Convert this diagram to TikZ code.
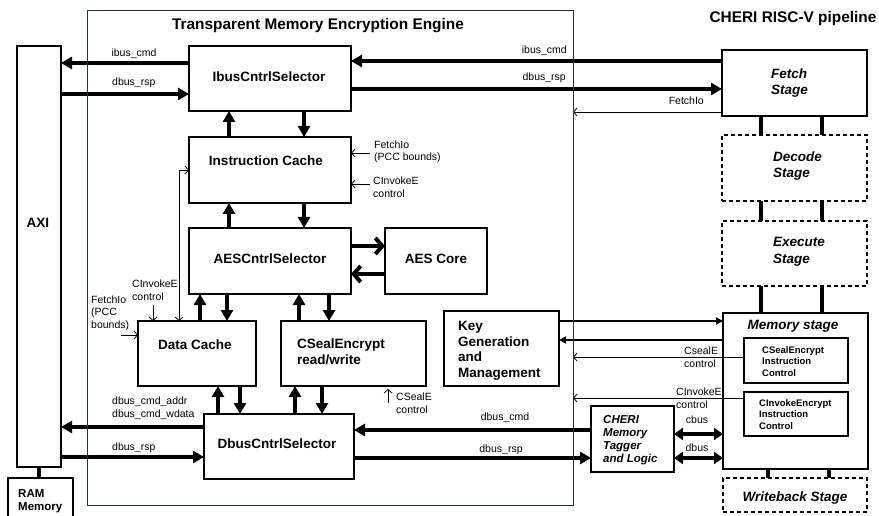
\documentclass[tikz,border=0pt]{standalone}
\usepackage{fontspec}
\setmainfont{Liberation Sans}
\usetikzlibrary{arrows.meta}
\definecolor{enginecol}{RGB}{28,52,72}

\tikzset{
  blk/.style={draw, line width=1.2pt, inner sep=0pt, outer sep=0pt, anchor=north west},
  dashblk/.style={blk, dash pattern=on 4pt off 3pt},
  ctlblk/.style={blk, line width=2pt},
  heavy/.style={line width=4pt, -{Triangle[length=11pt,width=12pt]}},
  twoway/.style={line width=4pt, {Triangle[length=9pt,width=12pt]}-{Triangle[length=9pt,width=12pt]}},
  chevron/.style={line width=4pt, -{Straight Barb[length=7pt,width=16pt]}},
  medium/.style={line width=2pt, -{Triangle[length=7pt,width=7pt]}},
  thinarr/.style={line width=0.8pt, -{Straight Barb[length=3.5pt,width=8pt]}},
  link/.style={line width=4pt},
  ttl/.style={font=\bfseries\fontsize{15.4}{18}\selectfont, inner sep=0pt},
  lbl/.style={font=\bfseries\fontsize{13.5}{15.5}\selectfont, inner sep=0pt, align=left},
  stg/.style={font=\bfseries\itshape\fontsize{13.5}{16.5}\selectfont, inner sep=0pt, align=left},
  sm/.style={font=\fontsize{10.5}{12.5}\selectfont, inner sep=0pt, align=left},
  ctl/.style={font=\bfseries\fontsize{9.5}{11.5}\selectfont, inner sep=0pt, align=left},
  mid/.style={font=\bfseries\fontsize{11.5}{12.5}\selectfont, inner sep=0pt, align=left},
}

\begin{document}
\begin{tikzpicture}[x=1pt,y=-1pt]
\useasboundingbox (0,0) rectangle (879,516);

% ---- outer memory side ----
\node[blk, minimum width=44, minimum height=421] (axi) at (17,46) {};
\node[blk, minimum width=65, minimum height=45] (ram) at (8,478) {};

% ---- encryption engine blocks ----
\node[blk, minimum width=162, minimum height=65] (ibus) at (189,46) {};
\node[blk, minimum width=162, minimum height=66] (icache) at (189,137) {};
\node[blk, minimum width=162, minimum height=66] (aes) at (189,228) {};
\node[blk, minimum width=102, minimum height=66] (core) at (385,228) {};
\node[blk, minimum width=118, minimum height=65] (dcache) at (138,321) {};
\node[blk, minimum width=145, minimum height=65] (cseal) at (281,321) {};
\node[blk, minimum width=115, minimum height=75] (keygen) at (444,311) {};
\node[blk, minimum width=150, minimum height=65] (dbus) at (204,414) {};

% ---- pipeline ----
\node[blk, minimum width=145, minimum height=66] (fetch) at (722,50) {};
\node[dashblk, minimum width=145, minimum height=66] (decode) at (722,135) {};
\node[dashblk, minimum width=145, minimum height=65] (execute) at (722,221) {};
\node[blk, minimum width=145, minimum height=156] (memory) at (723,313) {};
\node[ctlblk, minimum width=104, minimum height=45] (csealctl) at (744,338) {};
\node[ctlblk, minimum width=104, minimum height=44] (cinvctl) at (744,392) {};
\node[dashblk, minimum width=144, minimum height=34] (writeback) at (723,478) {};
\node[blk, minimum width=83, minimum height=66] (tagger) at (591,406) {};

% engine frame (drawn as a node so connectors can end on it)
\node[anchor=north west, inner sep=0pt, outer sep=0pt, minimum width=486, minimum height=495] (engine) at (87,10) {};

% ---- titles and block texts (multi-line texts are placed by their last baseline) ----
\node[ttl, anchor=base] (ttlengine) at (318,30) {Transparent Memory Encryption Engine};
\node[ttl, anchor=base] (ttlcheri) at (793,23) {CHERI RISC-V pipeline};
\node[lbl, anchor=base] (taxi) at (38,228) {AXI};
\node[mid, anchor=base west] (tram) at (18,510) {RAM\\Memory};
\node[lbl, anchor=base] (tibus) at (269,82) {IbusCntrlSelector};
\node[lbl, anchor=base] (tic) at (266,166) {Instruction Cache};
\node[lbl, anchor=base] (taes) at (270,263) {AESCntrlSelector};
\node[lbl, anchor=base] (tcore) at (436,263) {AES Core};
\node[lbl, anchor=base] (tdc) at (195,349) {Data Cache};
\node[lbl, anchor=base west] (tcs) at (297,364) {CSealEncrypt\\read/write};
\node[lbl, anchor=base west] (tkg) at (458,377) {Key\\Generation\\and\\Management};
\node[lbl, anchor=base] (tdbus) at (277,448) {DbusCntrlSelector};

\node[stg, anchor=base west] (tfetch) at (771,95) {Fetch\\Stage};
\node[stg, anchor=base west] (tdecode) at (773,178) {Decode\\Stage};
\node[stg, anchor=base west] (texec) at (773,263) {Execute\\Stage};
\node[stg, anchor=base] (tmem) at (793,329) {Memory stage};
\node[stg, anchor=base] (twb) at (795,501) {Writeback Stage};
\node[ctl, anchor=base west] (tcsctl) at (762,376) {CSealEncrypt\\Instruction\\Control};
\node[ctl, anchor=base west] (tcictl) at (759,429) {CInvokeEncrypt\\Instruction\\Control};
\node[mid, font=\bfseries\itshape\fontsize{11.5}{13}\selectfont, anchor=base west] (ttag) at (603,462) {CHERI\\Memory\\Tagger\\and Logic};

% ---- bus labels ----
\node[sm, anchor=base] (l1) at (134,57) {ibus\_cmd};
\node[sm, anchor=base west] (l2) at (112,86) {dbus\_rsp};
\node[sm, anchor=base east] (l3) at (567,54) {ibus\_cmd};
\node[sm, anchor=base east] (l4) at (566,81) {dbus\_rsp};
\node[sm, anchor=base east] (l5) at (704,105) {FetchIo};
\node[sm, anchor=base west] (l6) at (374,161) {FetchIo\\(PCC bounds)};
\node[sm, anchor=base west] (l7) at (373,197) {CInvokeE\\control};
\node[sm, anchor=base west] (l8) at (132,300) {CInvokeE\\control};
\node[sm, anchor=base west] (l9) at (91,328) {FetchIo\\(PCC\\bounds)};
\node[sm, anchor=base west] (l10) at (396,413) {CSealE\\control};
\node[sm, anchor=base west] (l11) at (112,417) {dbus\_cmd\_addr\\dbus\_cmd\_wdata};
\node[sm, anchor=base west] (l12) at (112,450) {dbus\_rsp};
\node[sm, anchor=base] (l13) at (505,420) {dbus\_cmd};
\node[sm, anchor=base] (l14) at (501,452) {dbus\_rsp};
\node[sm, anchor=base west] (l15) at (684,367) {CsealE\\control};
\node[sm, anchor=base west] (l16) at (676,408) {CInvokeE\\control};
\node[sm, anchor=base] (l17) at (697,423) {cbus};
\node[sm, anchor=base] (l18) at (697,451) {dbus};

% ---- AXI side buses ----
\draw[heavy] (ibus.west |- 0,63) -- (axi.east |- 0,63);
\draw[heavy] (axi.east |- 0,94) -- (ibus.west |- 0,94);
\draw[heavy] (dbus.west |- 0,427) -- (axi.east |- 0,427);
\draw[heavy] (axi.east |- 0,457) -- (dbus.west |- 0,457);
\draw[link] (axi.south) -- (ram.north -| axi.south);

% ---- pipeline side buses ----
\draw[heavy] (fetch.west |- 0,61) -- (ibus.east |- 0,61);
\draw[heavy] (ibus.east |- 0,89) -- (fetch.west |- 0,89);
\draw[thinarr] (fetch.west |- 0,112) -- (engine.east |- 0,112);
\draw[heavy] (tagger.west |- 0,430) -- (dbus.east |- 0,430);
\draw[heavy] (dbus.east |- 0,458) -- (tagger.west |- 0,458);
\draw[twoway] (tagger.east |- 0,434) -- (memory.west |- 0,434);
\draw[twoway] (tagger.east |- 0,458) -- (memory.west |- 0,458);
\draw[medium] (keygen.east |- 0,321) -- (memory.west |- 0,321);
\draw[medium] (memory.west |- 0,340) -- (keygen.east |- 0,340);
\draw[thinarr] (csealctl.west |- 0,357) -- (engine.east |- 0,357);
\draw[thinarr] (cinvctl.west |- 0,398) -- (engine.east |- 0,398);

% ---- internal vertical buses ----
\draw[heavy] (icache.north -| 229,0) -- (ibus.south -| 229,0);
\draw[heavy] (ibus.south -| 304,0) -- (icache.north -| 304,0);
\draw[heavy] (aes.north -| 229,0) -- (icache.south -| 229,0);
\draw[heavy] (icache.south -| 304,0) -- (aes.north -| 304,0);
\draw[heavy] (dcache.north -| 200,0) -- (aes.south -| 200,0);
\draw[heavy] (aes.south -| 227,0) -- (dcache.north -| 227,0);
\draw[heavy] (cseal.north -| 299,0) -- (aes.south -| 299,0);
\draw[heavy] (aes.south -| 329,0) -- (cseal.north -| 329,0);
\draw[heavy] (dbus.north -| 218,0) -- (dcache.south -| 218,0);
\draw[heavy] (dcache.south -| 240,0) -- (dbus.north -| 240,0);
\draw[heavy] (dbus.north -| 295,0) -- (cseal.south -| 295,0);
\draw[heavy] (cseal.south -| 322,0) -- (dbus.north -| 322,0);
\draw[chevron] (aes.east |- 0,246) -- (core.west |- 0,246);
\draw[chevron] (core.west |- 0,274) -- (aes.east |- 0,274);

% ---- control inputs ----
\coordinate (fi1) at (370,153);
\coordinate (ci1) at (370,184);
\coordinate (ci2) at (153,305);
\coordinate (fi2) at (121,335);
\coordinate (cs1) at (388,403);
\coordinate (cs2) at (388,389);
\draw[thinarr] (fi1) -- (icache.east |- fi1);
\draw[thinarr] (ci1) -- (icache.east |- ci1);
\draw[thinarr] (ci2) -- (dcache.north -| ci2);
\draw[thinarr] (fi2) -- (dcache.west |- fi2);
\draw[thinarr] (cs1) -- (cs2);
\draw[line width=0.8pt, {Straight Barb[length=3.5pt,width=8pt]}-{Straight Barb[length=3.5pt,width=8pt]}]
  (dcache.north -| 179,0) |- (icache.west |- 0,170);

% ---- pipeline stage links ----
\foreach \xx in {761,822} {
  \draw[link] (fetch.south -| \xx,0) -- (decode.north -| \xx,0);
  \draw[link] (decode.south -| \xx,0) -- (execute.north -| \xx,0);
  \draw[link] (execute.south -| \xx,0) -- (memory.north -| \xx,0);
}
\foreach \xx in {768,829} {
  \draw[link] (memory.south -| \xx,0) -- (writeback.north -| \xx,0);
}

% engine frame on top
\draw[enginecol, line width=0.9pt] (engine.north west) rectangle (engine.south east);
\end{tikzpicture}
\end{document}
